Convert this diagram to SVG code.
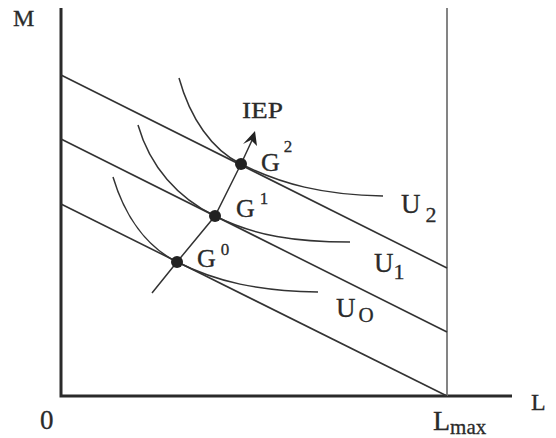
<svg xmlns="http://www.w3.org/2000/svg" width="556" height="438" viewBox="0 0 556 438">
<style>
.ax{stroke:#2a2a2a;stroke-width:3;fill:none}
.ln{stroke:#333;stroke-width:1.6;fill:none}
.cv{stroke:#333;stroke-width:1.5;fill:none}
.vl{stroke:#777;stroke-width:1.8;fill:none}
.pt{fill:#222}
.t{font-family:'Liberation Serif','DejaVu Serif',serif;fill:#2a2a2a;stroke:#2a2a2a;stroke-width:0.3}
</style>
<rect width="556" height="438" fill="#fff"/>
<g id="axes">
<path class="ax" d="M61,8 V396 H512"/>
<line class="vl" x1="447" y1="8" x2="447" y2="396"/>
<text class="t" x="13" y="26" font-size="24">M</text>
<text class="t" x="40" y="429" font-size="27">0</text>
<text class="t" x="531" y="410" font-size="24">L</text>
<text class="t" x="433" y="430" font-size="28">L<tspan font-size="21" dy="4">max</tspan></text>
</g>
<g id="budget-lines">
<line class="ln" x1="61" y1="75" x2="447" y2="268"/>
<line class="ln" x1="61" y1="139" x2="447" y2="332"/>
<line class="ln" x1="61" y1="204" x2="447" y2="396"/>
</g>
<g id="U0">
<path class="cv" d="M113,177 C125,217 147,247 177,262 C217,282 258,291 318,292"/>
<text class="t" x="336" y="317" font-size="27">U<tspan font-size="21" dx="3" dy="5">O</tspan></text>
</g>
<g id="U1">
<path class="cv" d="M138,125 C150,167 178,198 215,216 C255,236 295,242 350,242"/>
<text class="t" x="374" y="272" font-size="27">U<tspan font-size="22" dx="0" dy="7">1</tspan></text>
</g>
<g id="U2">
<path class="cv" d="M179,78 C190,118 212,150 241,164 C281,184 323,195 383,196"/>
<text class="t" x="401" y="213" font-size="27">U<tspan font-size="22" dx="5" dy="9">2</tspan></text>
</g>
<g id="connectors">
<polyline class="cv" points="152,293 177,262 215,216 241,164 254,136"/>
<path d="M255,131 L257,146 L251,140 L243,144 Z" fill="#222"/>
</g>
<g id="IEP"><text class="t" x="242" y="118" font-size="23" textLength="41" lengthAdjust="spacingAndGlyphs">IEP</text></g>
<g id="G0">
<circle class="pt" cx="177" cy="262" r="6"/>
<text class="t" x="197" y="267" font-size="26">G<tspan font-size="17" dx="5" dy="-12">0</tspan></text>
</g>
<g id="G1">
<circle class="pt" cx="215" cy="216" r="6"/>
<text class="t" x="236" y="217" font-size="26">G<tspan font-size="17" dx="5" dy="-13">1</tspan></text>
</g>
<g id="G2">
<circle class="pt" cx="241" cy="164" r="6"/>
<text class="t" x="261" y="171" font-size="26">G<tspan font-size="17" dx="4" dy="-19">2</tspan></text>
</g>
</svg>
